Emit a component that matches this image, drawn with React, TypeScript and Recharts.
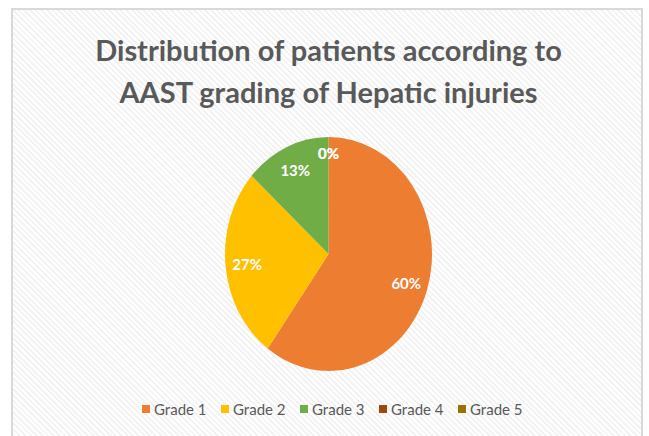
import { Legend, Pie, PieChart, Cell } from "recharts";

const grades = ["Grade 1", "Grade 2", "Grade 3", "Grade 4", "Grade 5"];
const patients = [9, 4, 2, 0, 0];
const colors = ["#ED7D31", "#FFC000", "#70AD47", "#9E480E", "#997300"];

const data = grades.map((name, i) => ({ name, value: patients[i] }));

const RAD = Math.PI / 180;
// the excel pie is a bit taller than it is wide, so stretch the sectors
const SQUASH = 1.13;
const CX = 328.5;
const CY = 254;

const sectorCss = `
.recharts-sector { transform: scaleY(${SQUASH}); transform-origin: ${CX}px ${CY}px; }
`;

const renderLabel = (props: any) => {
  const { cx, cy, midAngle, outerRadius, percent, value } = props;
  const k = value === 0 ? 0.86 : 0.79;
  const x = cx + outerRadius * k * Math.cos(-midAngle * RAD);
  const y = cy + outerRadius * k * Math.sin(-midAngle * RAD) * SQUASH;
  return (
    <text
      x={x}
      y={y}
      fill="#fff"
      textAnchor="middle"
      dominantBaseline="central"
      fontFamily="Lato"
      fontWeight={700}
      fontSize={15}
    >
      {`${Math.round(percent * 100)}%`}
    </text>
  );
};

const renderLegend = () => (
  <div style={{ display: "flex", paddingLeft: 142, fontFamily: "Lato", fontSize: 15, color: "#595959" }}>
    {grades.map((g, i) => (
      <span key={g} style={{ display: "inline-flex", alignItems: "center", width: 79 }}>
        <span style={{ width: 8, height: 8, background: colors[i], marginRight: 4 }} />
        {g}
      </span>
    ))}
  </div>
);

export default function App() {
  return (
    <div style={{ position: "absolute", left: 0, top: 0, width: 649, height: 436, overflow: "hidden", background: "#fff" }}>
      <style>{sectorCss}</style>
      <div
        style={{
          position: "absolute",
          left: 11,
          top: 8,
          width: 628,
          height: 440,
          border: "2px solid #d9d9d9",
          background: "repeating-linear-gradient(45deg, #ffffff 0px, #ffffff 2px, #f3f3f3 2px, #f3f3f3 4px)",
        }}
      />
      <div
        style={{
          position: "absolute",
          left: 0,
          top: 29,
          width: 657,
          textAlign: "center",
          fontFamily: "Lato",
          fontWeight: 700,
          fontSize: 29,
          lineHeight: "42px",
          color: "#595959",
        }}
      >
        Distribution of patients according to
        <br />
        AAST grading of Hepatic injuries
      </div>
      <div style={{ position: "absolute", left: 0, top: 0 }}>
        <PieChart width={649} height={436} margin={{ top: 0, right: 0, bottom: 0, left: 0 }}>
          <Pie
            data={data}
            dataKey="value"
            nameKey="name"
            cx={CX}
            cy={CY}
            outerRadius={103.5}
            startAngle={90}
            endAngle={-270}
            stroke="none"
            label={renderLabel}
            labelLine={false}
            isAnimationActive={false}
          >
            {data.map((d, i) => (
              <Cell key={d.name} fill={colors[i]} />
            ))}
          </Pie>
          <Legend content={renderLegend} wrapperStyle={{ left: 0, top: 400, width: 649 }} />
        </PieChart>
      </div>
    </div>
  );
}
